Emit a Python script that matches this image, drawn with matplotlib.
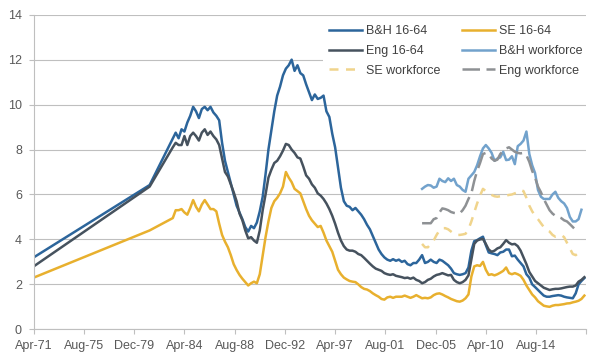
import pandas as pd
import matplotlib
matplotlib.use('Agg')
import matplotlib.pyplot as plt

# 16-64 series: two early annual points, then quarterly from Apr-83
early_dates = ['1971-04-01', '1981-04-01']
quarterly_start = '1983-04-01'

bh_1664 = [3.2, 6.42,
           8.5, 8.75, 8.5, 8.9, 8.8, 9.2, 9.5, 9.9, 9.7, 9.4,
           9.8, 9.9, 9.75, 9.9, 9.65, 9.5, 9.3, 8.3, 7.5, 7.0,
           6.5, 6.0, 5.5, 5.2, 4.9, 4.55, 4.35, 4.6, 4.5, 4.75,
           5.25, 5.9, 6.9, 8.0, 8.85, 9.7, 10.4, 10.8, 11.3, 11.6,
           11.75, 12.0, 11.5, 11.75, 11.4, 11.3, 10.9, 10.55, 10.2, 10.45,
           10.25, 10.3, 10.4, 9.7, 9.45, 8.7, 8.1, 7.2, 6.3, 5.7,
           5.5, 5.45, 5.3, 5.4, 5.25, 5.1, 4.9, 4.65, 4.45, 4.15,
           3.85, 3.55, 3.35, 3.2, 3.1, 3.05, 3.12, 3.05, 3.1, 3.0,
           3.05, 2.9, 2.85, 2.95, 2.95, 3.1, 3.3, 2.95, 3.0, 3.1,
           3.0, 2.95, 3.1, 3.05, 2.95, 2.85, 2.7, 2.5, 2.45, 2.42,
           2.45, 2.5, 2.75, 3.5, 3.92, 3.97, 4.05, 4.12, 3.75, 3.42,
           3.38, 3.35, 3.3, 3.42, 3.45, 3.55, 3.55, 3.25, 3.28, 3.1,
           2.95, 2.8, 2.45, 2.3, 2.0, 1.88, 1.75, 1.62, 1.5, 1.45,
           1.45, 1.48, 1.5, 1.52, 1.5, 1.45, 1.42, 1.4, 1.38, 1.6,
           2.0, 2.15, 2.28]

eng_1664 = [2.8, 6.35,
            8.1, 8.3, 8.2, 8.2, 8.6, 8.2, 8.6, 8.75, 8.6, 8.4,
            8.75, 8.9, 8.65, 8.8, 8.6, 8.45, 8.2, 7.6, 7.0, 6.8,
            6.45, 6.1, 5.7, 5.15, 4.85, 4.4, 4.05, 4.1, 3.95, 3.85,
            4.4, 5.3, 6.0, 6.75, 7.1, 7.4, 7.5, 7.7, 7.95, 8.25,
            8.2, 8.0, 7.85, 7.65, 7.6, 7.25, 6.85, 6.7, 6.45, 6.3,
            6.05, 5.95, 5.8, 5.6, 5.35, 5.05, 4.7, 4.3, 3.95, 3.7,
            3.55, 3.5, 3.5, 3.45, 3.35, 3.3, 3.18, 3.05, 2.92, 2.8,
            2.7, 2.65, 2.6, 2.5, 2.45, 2.42, 2.45, 2.38, 2.35, 2.32,
            2.28, 2.3, 2.25, 2.3, 2.2, 2.15, 2.05, 2.1, 2.2, 2.25,
            2.35, 2.42, 2.45, 2.5, 2.45, 2.4, 2.42, 2.2, 2.1, 2.05,
            2.1, 2.2, 2.4, 3.1, 3.8, 3.95, 4.0, 4.02, 3.8, 3.55,
            3.45, 3.5, 3.6, 3.65, 3.8, 3.97, 3.85, 3.78, 3.8, 3.7,
            3.5, 3.2, 2.9, 2.55, 2.35, 2.15, 2.05, 1.95, 1.85, 1.8,
            1.75, 1.78, 1.8, 1.8, 1.82, 1.85, 1.88, 1.9, 1.9, 1.95,
            2.12, 2.2, 2.32]

se_1664 = [2.3, 4.4,
           4.95, 5.3, 5.3, 5.35, 5.2, 5.1, 5.4, 5.75, 5.45, 5.25,
           5.55, 5.75, 5.55, 5.35, 5.35, 5.25, 4.7, 4.2, 3.9, 3.65,
           3.3, 2.9, 2.64, 2.42, 2.25, 2.1, 1.95, 2.05, 2.12, 2.05,
           2.45, 3.3, 4.1, 4.8, 5.4, 5.7, 5.85, 6.05, 6.35, 7.0,
           6.75, 6.55, 6.25, 6.15, 6.05, 5.7, 5.35, 5.05, 4.85, 4.7,
           4.55, 4.6, 4.3, 3.95, 3.7, 3.45, 3.05, 2.65, 2.45, 2.3,
           2.22, 2.15, 2.12, 2.1, 2.0, 1.88, 1.8, 1.77, 1.7, 1.6,
           1.52, 1.45, 1.35, 1.32, 1.42, 1.45, 1.4, 1.45, 1.45, 1.45,
           1.5, 1.45, 1.4, 1.45, 1.52, 1.45, 1.38, 1.4, 1.38, 1.42,
           1.52, 1.58, 1.6, 1.55, 1.48, 1.42, 1.35, 1.3, 1.25, 1.23,
           1.28, 1.38, 1.55, 2.35, 2.8, 2.85, 2.82, 3.0, 2.65, 2.42,
           2.45, 2.4, 2.45, 2.52, 2.6, 2.75, 2.5, 2.45, 2.5, 2.45,
           2.38, 2.2, 1.95, 1.75, 1.55, 1.42, 1.25, 1.15, 1.05, 1.02,
           1.0, 1.05, 1.08, 1.08, 1.1, 1.12, 1.15, 1.16, 1.2, 1.23,
           1.27, 1.35, 1.5]

# workforce series: quarterly from Oct-04
wf_start = '2004-10-01'

bh_wf = [6.25, 6.35, 6.42, 6.4, 6.3, 6.35, 6.7, 6.6, 6.55, 6.72,
         6.6, 6.7, 6.42, 6.35, 6.2, 6.12, 6.7, 6.85, 7.0, 7.3,
         7.7, 8.05, 8.2, 8.05, 7.85, 7.5, 7.6, 7.65, 7.9, 7.53,
         7.55, 7.7, 7.35, 8.15, 8.25, 8.4, 8.8, 7.8, 7.3, 6.95,
         6.2, 5.9, 5.8, 5.8, 5.8, 6.0, 6.12, 5.85, 5.7, 5.6,
         5.4, 5.0, 4.8, 4.8, 4.9, 5.32]

se_wf = [3.8, 3.65, 3.65, 3.8, 3.95, 4.2, 4.4, 4.5, 4.5, 4.45,
         4.35, 4.25, 4.2, 4.2, 4.22, 4.25, 4.45, 4.8, 5.2, 5.6,
         5.95, 6.25, 6.15, 6.05, 5.98, 5.92, 5.9, 5.92, 5.9, 5.95,
         5.98, 6.0, 6.05, 6.1, 6.2, 6.15, 5.85, 5.5, 5.25, 5.05,
         4.9, 4.72, 4.55, 4.42, 4.35, 4.2, 4.12, 4.15, 4.2, 4.1,
         3.85, 3.6, 3.35, 3.3, 3.4, 3.55]

eng_wf = [4.72, 4.72, 4.72, 4.72, 4.9, 4.95, 5.2, 5.38, 5.35, 5.3,
          5.22, 5.18, 5.16, 5.16, 5.3, 5.5, 5.8, 6.05, 6.6, 7.05,
          7.4, 7.8, 7.85, 7.8, 7.6, 7.5, 7.55, 7.8, 7.95, 8.05,
          8.1, 8.0, 7.9, 7.85, 7.83, 7.85, 7.75, 7.45, 7.05, 6.75,
          6.35, 6.1, 5.8, 5.55, 5.3, 5.15, 5.05, 5.0, 4.95, 4.85,
          4.8, 4.68, 4.55, 4.42]

y_ticks = [0, 2, 4, 6, 8, 10, 12, 14]

dates_1664 = pd.to_datetime(early_dates).append(
    pd.date_range(quarterly_start, periods=len(bh_1664) - 2, freq='3MS'))


def wf_dates(vals):
    return pd.date_range(wf_start, periods=len(vals), freq='3MS')


plt.rcParams['font.family'] = ['Liberation Sans', 'DejaVu Sans']

fig = plt.figure(figsize=(6, 3.6), dpi=100)
ax = fig.add_axes([33.7 / 600, 1 - 329.3 / 360, (586.3 - 33.7) / 600, (329.3 - 14.7) / 360])

lw = 1.8
l_bh, = ax.plot(dates_1664, bh_1664, color='#2C659B', lw=lw, label='B&H 16-64')
l_se, = ax.plot(dates_1664, se_1664, color='#E8B02E', lw=lw, label='SE 16-64')
l_eng, = ax.plot(dates_1664, eng_1664, color='#46525E', lw=lw, label='Eng 16-64')
l_bhwf, = ax.plot(wf_dates(bh_wf), bh_wf, color='#72A2CC', lw=lw, label='B&H workforce')
l_sewf, = ax.plot(wf_dates(se_wf), se_wf, color='#F0D48C', lw=lw, label='SE workforce',
                  dashes=(3.6, 3.0))
l_engwf, = ax.plot(wf_dates(eng_wf), eng_wf, color='#8E9194', lw=lw, label='Eng workforce',
                   dashes=(7.0, 2.6))

x_left = pd.Timestamp('1971-04-01')
x_right = pd.Timestamp('2018-12-01')
ax.set_xlim(x_left, x_right)
ax.set_ylim(0, 14)

tick_dates = list(pd.date_range('1971-04-01', periods=11, freq='52MS'))
ax.set_xticks(tick_dates + [x_right], [d.strftime('%b-%y') for d in tick_dates] + [''])
ax.set_yticks(y_ticks)

grid_c = '#BFBFBF'
ax.yaxis.grid(True, color=grid_c, lw=0.8)
ax.set_axisbelow(True)
for s in ['top', 'right']:
    ax.spines[s].set_visible(False)
for s in ['left', 'bottom']:
    ax.spines[s].set_color(grid_c)
    ax.spines[s].set_linewidth(0.8)
ax.tick_params(axis='both', colors=grid_c, labelcolor='#595959', labelsize=9,
               length=3.5, width=0.8)
ax.tick_params(axis='y', pad=5)
ax.tick_params(axis='x', pad=4)

handles = [l_bh, l_eng, l_sewf, l_se, l_bhwf, l_engwf]
leg = ax.legend(handles, [h.get_label() for h in handles], ncol=2, loc='upper left',
                bbox_to_anchor=(323 / 600, 1 - 19 / 360), bbox_transform=fig.transFigure,
                fontsize=9, handlelength=2.65, handletextpad=0.3, columnspacing=1.7,
                labelspacing=0.62, borderpad=0.5, borderaxespad=0, fancybox=False,
                framealpha=1)
leg.get_frame().set_edgecolor('none')
leg.get_frame().set_facecolor('white')
for t in leg.get_texts():
    t.set_color('#404040')

fig.savefig('out.png', dpi=100)
